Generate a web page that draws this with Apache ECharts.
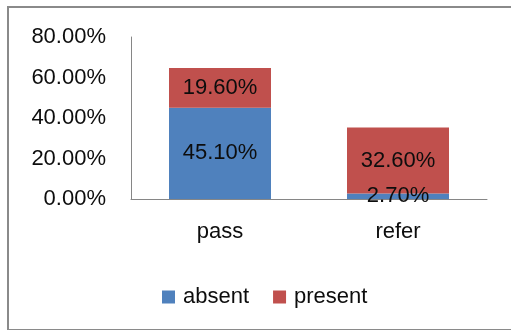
<!DOCTYPE html>
<html>
<head>
<meta charset="utf-8">
<script src="https://cdn.jsdelivr.net/npm/echarts@6/dist/echarts.min.js"></script>
<style>
  html, body { margin: 0; padding: 0; background: #fff; }
  #wrap { position: relative; width: 511px; height: 330px; overflow: hidden; }
  #frame { position: absolute; left: 7px; top: 6px; width: 520px; height: 321px; border: 2px solid #8a8a8a; }
  #chart { position: absolute; left: 0; top: 0; width: 511px; height: 330px; }
</style>
</head>
<body>
<div id="wrap">
  <div id="frame"></div>
  <div id="chart"></div>
</div>
<script>
const categories = ['pass', 'refer']
const absent = [45.1, 2.7]
const present = [19.6, 32.6]
const yTicks = { min: 0, max: 80, interval: 20 }

const font = 'Liberation Sans'
const fs = 22
const pct = v => v.toFixed(2) + '%'

const chart = echarts.init(document.getElementById('chart'))

const barLabel = {
  show: true,
  position: 'inside',
  color: '#0d0d0d',
  fontFamily: font,
  fontSize: fs,
  formatter: p => pct(p.value)
}

chart.setOption({
  animation: false,
  grid: { left: 131, right: 24, top: 37, bottom: 131 },
  legend: {
    left: 157,
    top: 281,
    icon: 'rect',
    itemWidth: 13,
    itemHeight: 13,
    itemGap: 24,
    itemStyle: { borderWidth: 0 },
    textStyle: { fontFamily: font, fontSize: fs, color: '#0d0d0d', padding: [0, 0, 0, 3] },
    data: ['absent', 'present']
  },
  xAxis: {
    type: 'category',
    data: categories,
    axisLine: { lineStyle: { color: '#868686', width: 1 } },
    axisTick: { show: false },
    axisLabel: { margin: 22, fontFamily: font, fontSize: fs, color: '#0d0d0d' }
  },
  yAxis: {
    type: 'value',
    min: yTicks.min,
    max: yTicks.max,
    interval: yTicks.interval,
    axisLine: { show: true, lineStyle: { color: '#868686', width: 1 } },
    axisTick: { show: false },
    splitLine: { show: false },
    axisLabel: { margin: 25, fontFamily: font, fontSize: fs, color: '#0d0d0d', formatter: pct }
  },
  series: [
    {
      name: 'absent',
      type: 'bar',
      stack: 'total',
      barWidth: 102,
      data: absent,
      itemStyle: { color: '#4F81BD' },
      label: barLabel
    },
    {
      name: 'present',
      type: 'bar',
      stack: 'total',
      barWidth: 102,
      data: present,
      itemStyle: { color: '#C0504D' },
      label: barLabel
    }
  ]
})
</script>
</body>
</html>
